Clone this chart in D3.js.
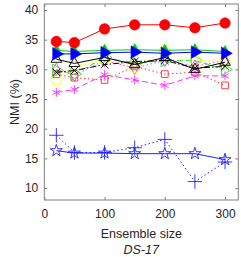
<!DOCTYPE html>
<head>
<meta charset="utf-8">
<title>DS-17</title>
<script src="https://d3js.org/d3.v7.min.js"></script>
<style>
  body { margin: 0; background: #fff; }
  text { font-family: "Liberation Sans", Arial, sans-serif; fill: #262626; }
</style>
</head>
<body>
<div id="chart"></div>
<script>
const sizes = [20, 50, 100, 150, 200, 250, 300];
const xTicks = [0, 100, 200, 300];
const yTicks = [10, 15, 20, 25, 30, 35, 40];

const redCircle   = [34.7, 34.5, 36.8, 37.5, 37.5, 37.0, 37.8];
const greenDiam   = [33.2, 33.0, 33.2, 33.3, 33.2, 33.3, 33.0];
const blueTri     = [32.6, 32.6, 32.8, 32.9, 32.7, 32.9, 32.7];
const blackTri    = [31.7, 31.0, 32.0, 30.8, 32.0, 30.0, 31.2];
const blackX      = [29.5, 29.8, 30.8, 31.3, 31.5, 30.2, 30.5];
const yellowCirc  = [28.3, 30.5, 31.7, 30.3, 33.1, 31.5, 31.4];
const greenTri    = [29.8, 29.2, 32.0, 31.0, 31.5, 31.5, 30.0];
const magDiam     = [30.0, 29.0, 31.5, 30.2, 31.5, 30.5, 31.5];
const redSquare   = [29.2, 28.6, 28.2, 30.5, 29.2, 29.5, 27.3];
const magStar     = [26.1, 26.6, 29.1, 28.2, 27.3, 28.9, 28.9];
const bluePlus    = [18.9, 16.0, 16.0, 16.8, 18.2, 11.1, 14.4];
const bluePent    = [16.3, 15.9, 15.9, 15.8, 15.8, 15.8, 14.8];

const series = [
  {v: redSquare,  c: "#ff3030", dash: "1.5,2.5", m: "square",   fill: false},
  {v: magStar,    c: "#ff30ff", dash: "6,3",     m: "asterisk", fill: false},
  {v: magDiam,    c: "#ff30ff", dash: "1.5,2.5", m: "diamond",  fill: false},
  {v: greenTri,   c: "#30e030", dash: "6,3",     m: "right",    fill: false},
  {v: yellowCirc, c: "#ffff00", dash: "1.5,2.5", m: "circle",   fill: false},
  {v: blackX,     c: "#000",    dash: "6,2,1.5,2", m: "cross",  fill: false},
  {v: blackTri,   c: "#000",    dash: null,      m: "up",       fill: false},
  {v: greenDiam,  c: "#00d000", dash: null,      m: "diamond",  fill: true},
  {v: blueTri,    c: "#0000ff", dash: null,      m: "right",    fill: true},
  {v: redCircle,  c: "#ff0000", dash: null,      m: "circle",   fill: true},
  {v: bluePlus,   c: "#2020ff", dash: "1.5,2.5", m: "plus",     fill: false},
  {v: bluePent,   c: "#2020ff", dash: null,      m: "star",     fill: false}
];

const W = 241, H = 257;
const m = {left: 44.3, right: 2.7, top: 4, bottom: 57};
const svg = d3.select("#chart").append("svg").attr("width", W).attr("height", H);

const x = d3.scaleLinear().domain([0, 322]).range([m.left, W - m.right]);
const y = d3.scaleLinear().domain([8, 41]).range([H - m.bottom, m.top]);

const symbols = {
  square: d3.symbolSquare, diamond: d3.symbolDiamond, circle: d3.symbolCircle,
  cross: d3.symbolTimes, plus: d3.symbolPlus, star: d3.symbolStar, asterisk: d3.symbolAsterisk,
  up: d3.symbolTriangle, right: d3.symbolTriangle
};
const symSize = {square: 45, diamond: 45, circle: 90, cross: 40, plus: 70, star: 45,
  asterisk: 55, up: 50, right: 70};

// lines first, then markers on top
series.forEach(s => {
  svg.append("path")
    .datum(s.v)
    .attr("fill", "none")
    .attr("stroke", s.c)
    .attr("stroke-width", 1)
    .attr("stroke-dasharray", s.dash)
    .attr("d", d3.line().x((d, i) => x(sizes[i])).y(d => y(d)));

  svg.append("g").selectAll("path")
    .data(s.v)
    .join("path")
      .attr("transform", (d, i) => `translate(${x(sizes[i])},${y(d)})` + (s.m === "right" ? " rotate(90)" : ""))
      .attr("d", d3.symbol().type(symbols[s.m]).size(symSize[s.m]))
      .attr("fill", s.fill ? s.c : "none")
      .attr("stroke", s.c)
      .attr("stroke-width", s.fill ? 0.5 : 0.9);
});

// box with inward ticks
const x0 = m.left, x1 = W - m.right, y0 = m.top, y1 = H - m.bottom;
svg.append("rect").attr("x", x0).attr("y", y0).attr("width", x1 - x0).attr("height", y1 - y0)
  .attr("fill", "none").attr("stroke", "#808080").attr("stroke-width", 1);

svg.append("g").attr("transform", `translate(0,${y1})`)
  .call(d3.axisBottom(x).tickValues(xTicks).tickSizeInner(-3).tickSizeOuter(0).tickPadding(9))
  .call(g => g.select(".domain").remove())
  .call(g => g.selectAll("line").attr("stroke", "#808080"))
  .call(g => g.selectAll("text").attr("font-size", 12).attr("fill", "#262626"));
svg.append("g").attr("transform", `translate(0,${y0})`)
  .call(d3.axisTop(x).tickValues(xTicks).tickSizeInner(-3).tickSizeOuter(0).tickFormat(""))
  .call(g => g.select(".domain").remove())
  .call(g => g.selectAll("line").attr("stroke", "#808080"));
svg.append("g").attr("transform", `translate(${x0},0)`)
  .call(d3.axisLeft(y).tickValues(yTicks).tickSizeInner(-3).tickSizeOuter(0).tickPadding(6))
  .call(g => g.select(".domain").remove())
  .call(g => g.selectAll("line").attr("stroke", "#808080"))
  .call(g => g.selectAll("text").attr("font-size", 12).attr("fill", "#262626"));
svg.append("g").attr("transform", `translate(${x1},0)`)
  .call(d3.axisRight(y).tickValues(yTicks).tickSizeInner(-3).tickSizeOuter(0).tickFormat(""))
  .call(g => g.select(".domain").remove())
  .call(g => g.selectAll("line").attr("stroke", "#808080"));

svg.append("text").attr("x", (x0 + x1) / 2).attr("y", 238).attr("text-anchor", "middle")
  .attr("font-size", 12.5).text("Ensemble size");
svg.append("text").attr("x", (x0 + x1) / 2).attr("y", 254).attr("text-anchor", "middle")
  .attr("font-size", 12.5).attr("font-style", "italic").text("DS-17");
svg.append("text").attr("transform", `translate(19,${(y0 + y1) / 2}) rotate(-90)`)
  .attr("text-anchor", "middle").attr("font-size", 12.5).text("NMI (%)");
</script>
</body>
</html>
